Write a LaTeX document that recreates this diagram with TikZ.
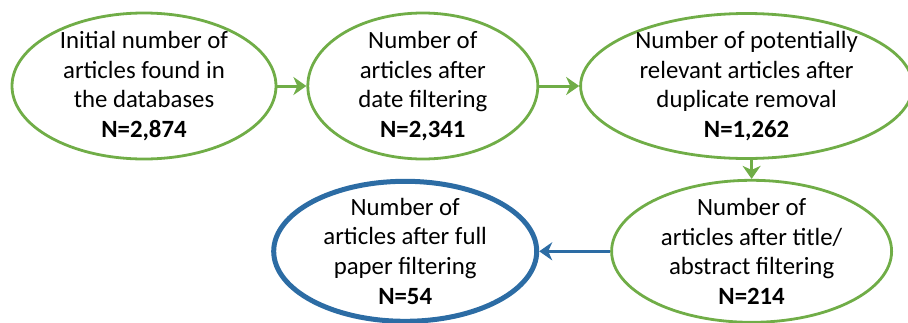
\documentclass[tikz,border=0pt]{standalone}
\usepackage{fontspec}
\setmainfont{Carlito}
\usetikzlibrary{arrows.meta,positioning,shapes.geometric}
\definecolor{boxgreen}{RGB}{112,173,71}
\definecolor{boxblue}{RGB}{44,108,164}

\begin{document}
\begin{tikzpicture}[x=1pt,y=1pt,>={Stealth[length=13pt,width=18pt,inset=4pt]}]
    \tikzset{gblock/.style= {draw=boxgreen, ellipse, line width=2.8pt, align=center, inner xsep=0pt, inner ysep=-12pt, font=\fontsize{24.8}{29.7}\selectfont},
    bblock/.style={gblock, draw=boxblue, line width=5pt},
    garrow/.style={->, draw=boxgreen, fill=boxgreen, line width=3pt},
    barrow/.style={->, draw=boxblue, fill=boxblue, line width=2.4pt},
    }
    \useasboundingbox (0,0) rectangle (908,-322);
    \node [gblock, minimum width=264pt, minimum height=146pt] (initial) at (144,-86) {Initial number of\\articles found in\\the databases\\\textbf{N=2,874}};
    \node [gblock, minimum width=230pt, minimum height=146pt, right=29pt of initial] (datefilt) {Number of\\articles after\\date filtering\\\textbf{N=2,341}};
    \node [gblock, minimum width=332pt, minimum height=145pt, right=40pt of datefilt] (dupremove) {Number of potentially\\relevant articles after\\duplicate removal\\\textbf{N=1,262}};
    \node [gblock, minimum width=280pt, minimum height=142pt, below=19pt of dupremove, xshift=5pt] (titlefilt) {Number of\\articles after title/\\abstract filtering\\\textbf{N=214}};
    \node [bblock, minimum width=263pt, minimum height=140pt, left=71pt of titlefilt] (fullfilt) {Number of\\articles after full\\paper filtering\\\textbf{N=54}};

% paths
    \draw[garrow] (initial.east) -- (datefilt.west);
    \draw[garrow] (datefilt.east) -- (dupremove.west);
    \draw[garrow] (dupremove.south -| titlefilt.north) -- (titlefilt.north);
    \draw[barrow] (titlefilt.west) -- (fullfilt.east);
\end{tikzpicture}
\end{document}
